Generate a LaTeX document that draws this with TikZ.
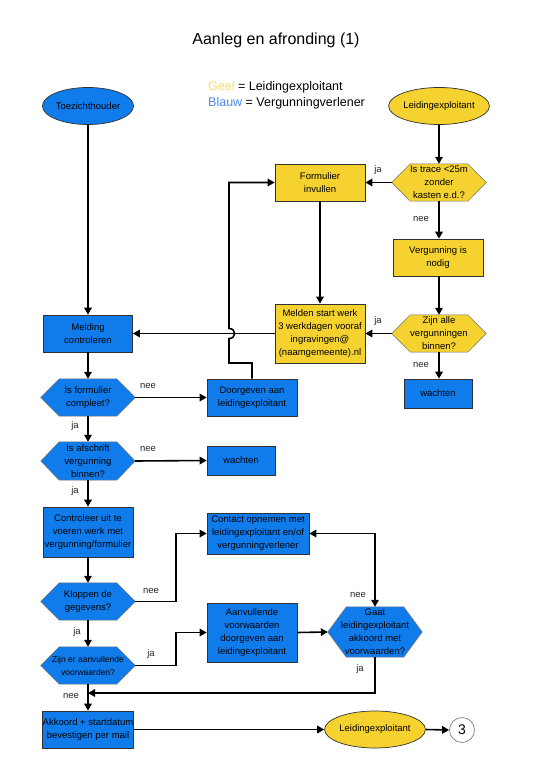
\documentclass[tikz,border=0pt]{standalone}
\usepackage{fontspec}
\setmainfont{Liberation Sans}
\usetikzlibrary{shapes.geometric,arrows.meta,calc,backgrounds}
\definecolor{vblue}{RGB}{16,124,236}
\definecolor{lyellow}{RGB}{245,210,47}
\definecolor{geel}{RGB}{248,222,112}
\definecolor{blauw}{RGB}{70,140,240}
\definecolor{edge}{RGB}{50,50,50}
\tikzset{
  txt/.style={font=\fontsize{9.5}{13}\selectfont, align=center, text=black},
  boxb/.style={txt, rectangle, draw=edge, line width=0.7pt, fill=vblue, inner sep=0pt},
  boxy/.style={txt, rectangle, draw=edge, line width=0.7pt, fill=lyellow, inner sep=0pt},
  hexnode/.style={txt, rectangle, inner sep=0pt, minimum width=94pt, minimum height=37pt},
  hexpath/.style={draw=black!55, line width=0.5pt},
  ellb/.style={txt, ellipse, draw=edge, line width=0.7pt, fill=vblue, inner sep=0pt, minimum width=90pt, minimum height=37pt},
  elly/.style={txt, ellipse, draw=edge, line width=0.7pt, fill=lyellow, inner sep=0pt, minimum width=91pt, minimum height=37pt},
  conn/.style={line width=1.6pt, draw=black, -{Triangle[length=7pt,width=7.5pt]}},
  lbl/.style={font=\fontsize{9.5}{11}\selectfont, text=black!85, inner sep=0pt},
}
\begin{document}
\begin{tikzpicture}[x=1pt,y=-1pt]
\useasboundingbox (0,0) rectangle (541,757);

% title and legend
\node[font=\fontsize{16}{18}\selectfont] (title) at (276,40) {Aanleg en afronding (1)};
\node[font=\fontsize{12.5}{15}\selectfont, anchor=west, inner sep=0pt] (leg1) at (208,87) {\textcolor{geel}{Geel} = Leidingexploitant};
\node[font=\fontsize{12.5}{15}\selectfont, anchor=west, inner sep=0pt] (leg2) at (208,103) {\textcolor{blauw}{Blauw} = Vergunningverlener};

% nodes
\node[ellb] (toez) at (88,106) {Toezichthouder};
\node[elly] (leid1) at (439,106) {Leidingexploitant};
\node[hexnode] (trace) at (439,182.5) {Is trace <25m\\zonder\\kasten e.d.?};
\node[boxy, minimum width=90pt, minimum height=37pt] (form) at (320,182.5) {Formulier\\invullen};
\node[boxy, minimum width=90pt, minimum height=37pt] (verg) at (438,257.5) {Vergunning is\\nodig};
\node[hexnode] (zijn) at (439,333.5) {Zijn alle\\vergunningen\\binnen?};
\node[boxy, minimum width=90pt, minimum height=59pt] (melden) at (320,333.5) {Melden start werk\\3 werkdagen vooraf\\ingravingen@\\(naamgemeente).nl};
\node[boxb, minimum width=68pt, minimum height=29pt] (wacht1) at (438,393.5) {wachten};
\node[boxb, minimum width=89pt, minimum height=37pt] (melding) at (88,333.5) {Melding\\controleren};
\node[hexnode] (compl) at (88,397.5) {Is formulier\\compleet?};
\node[boxb, minimum width=90pt, minimum height=37pt] (door) at (252,397.5) {Doorgeven aan\\leidingexploitant};
\node[hexnode, minimum height=38pt] (afschr) at (88,461) {Is afschrift\\vergunning\\binnen?};
\node[boxb, minimum width=68pt, minimum height=29pt] (wacht2) at (241,460.5) {wachten};
\node[boxb, minimum width=90pt, minimum height=50pt] (contr) at (88,532) {Controleer uit te\\voeren werk met\\vergunning/formulier};
\node[hexnode] (klop) at (88,601.5) {Kloppen de\\gegevens?};
\node[boxb, minimum width=102pt, minimum height=41pt] (contact) at (258,533.5) {Contact opnemen met\\leidingexploitant en/of\\vergunningverlener};
\node[hexnode, font=\fontsize{8.5}{13}\selectfont] (aanv) at (88,665.5) {Zijn er aanvullende\\voorwaarden?};
\node[boxb, minimum width=90pt, minimum height=59pt] (aanvbox) at (252,632.5) {Aanvullende\\voorwaarden\\doorgeven aan\\leidingexploitant};
\node[hexnode, minimum height=50pt] (gaat) at (375,632) {Gaat\\leidingexploitant\\akkoord met\\voorwaarden?};
\node[boxb, minimum width=90pt, minimum height=37pt] (akk) at (88,729.5) {Akkoord + startdatum\\bevestigen per mail};
\node[elly] (leid2) at (375,729.5) {Leidingexploitant};
\node[circle, draw=black!50, line width=0.7pt, fill=white, minimum size=25pt, inner sep=0pt, font=\fontsize{14}{16}\selectfont] (three) at (462,730) {3};

% hexagon outlines behind their texts
\begin{scope}[on background layer]
\fill[white] (0,0) rectangle (541,757);
\foreach \n/\c in {trace/lyellow, zijn/lyellow, compl/vblue, afschr/vblue, klop/vblue, aanv/vblue, gaat/vblue}{
  \path[hexpath, fill=\c] (\n.west) -- ([xshift=18.5pt]\n.north west) -- ([xshift=-18.5pt]\n.north east) -- (\n.east) -- ([xshift=-18.5pt]\n.south east) -- ([xshift=18.5pt]\n.south west) -- cycle;
}
\end{scope}

% connectors
\draw[conn] (toez.south) -- (melding.north);
\draw[conn] (leid1.south) -- (trace.north);
\draw[conn] (trace.west) -- (form.east);
\node[lbl] (l1) at (378,170) {ja};
\draw[conn] (trace.south) -- (verg.north -| trace.south);
\node[lbl] (l2) at (421,219) {nee};
\draw[conn] (verg.south -| zijn.north) -- (zijn.north);
\draw[conn] (form.south) -- (melden.north);
\draw[conn] (zijn.west) -- (melden.east);
\node[lbl] (l3) at (378,321) {ja};
\draw[conn] (melden.west) -- (melding.east);
\draw[conn] (zijn.south) -- (wacht1.north -| zijn.south);
\node[lbl] (l4) at (421,365) {nee};
\draw[conn] (melding.south) -- (compl.north);
\draw[conn] (compl.east) -- (door.west);
\node[lbl] (l5) at (148,386) {nee};
% loop back with hop over the horizontal line
\coordinate (h1) at (252,363);
\coordinate (h2) at (229,363);
\coordinate (h3) at (229,338.5);
\coordinate (h4) at (229,328.5);
\draw[conn] (door.north -| h1) -- (h1) -- (h2) -- (h3) .. controls (236.5,338.5) and (236.5,328.5) .. (h4) -- (h4 |- form.west) -- (form.west);
\draw[conn] (compl.south) -- (afschr.north);
\node[lbl] (l6) at (75,426) {ja};
\draw[conn] (afschr.east) -- (wacht2.west);
\node[lbl] (l7) at (148,449) {nee};
\draw[conn] (afschr.south) -- (contr.north);
\node[lbl] (l8) at (75,491) {ja};
\draw[conn] (contr.south) -- (klop.north);
\coordinate (k1) at (176,601.5);
\draw[conn] (klop.east) -- (k1) |- (contact.west);
\node[lbl] (l9) at (151,591) {nee};
\draw[conn] (klop.south) -- (aanv.north);
\node[lbl] (l10) at (77,632) {ja};
\coordinate (a1) at (176,665.5);
\draw[conn] (aanv.east) -- (a1) |- (aanvbox.west);
\node[lbl] (l11) at (151,654) {ja};
\draw[conn] (aanvbox.east) -- (gaat.west);
\draw[line width=1.6pt, {Triangle[length=7pt,width=7.5pt]}-{Triangle[length=7pt,width=7.5pt]}] (contact.east) -| (gaat.north);
\node[lbl] (l12) at (358,595) {nee};
\coordinate (g1) at (375,693);
\coordinate (g2) at (88,693);
\draw[conn] (gaat.south) -- (g1) -- (g2);
\node[lbl] (l13) at (360,669) {ja};
\draw[conn] (aanv.south) -- (akk.north);
\node[lbl] (l14) at (71,696) {nee};
\draw[conn] (akk.east) -- (leid2.west);
\draw[conn] (leid2.east) -- (three.west);
\end{tikzpicture}
\end{document}
